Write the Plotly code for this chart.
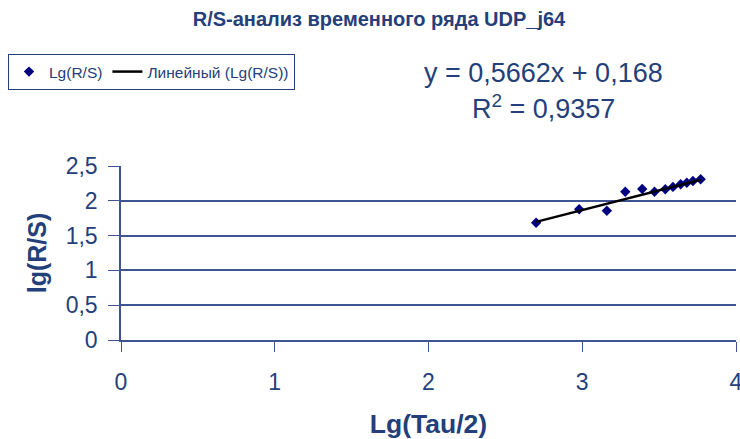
import plotly.graph_objects as go

# Data
lg_tau2 = [2.70, 2.98, 3.16, 3.28, 3.39, 3.47, 3.54, 3.59, 3.64, 3.68, 3.72, 3.77]
lg_rs = [1.685, 1.878, 1.858, 2.13, 2.17, 2.13, 2.165, 2.20, 2.237, 2.26, 2.285, 2.31]
slope = 0.5662
intercept = 0.168
r2_text = "0,9357"

x_ticks = [0, 1, 2, 3, 4]
y_ticks = [0, 0.5, 1, 1.5, 2, 2.5]

NAVY = "#24407a"
GRID = "#3f5593"
FONT = "Liberation Sans, Arial, sans-serif"

W, H = 740, 439

fit_x = [min(lg_tau2), max(lg_tau2)]
fit_y = [slope * v + intercept for v in fit_x]

fig = go.Figure()
fig.add_trace(go.Scatter(
    x=lg_tau2, y=lg_rs, mode="markers", name="Lg(R/S)",
    marker=dict(symbol="diamond", size=8, color="#000080"),
))
fig.add_trace(go.Scatter(
    x=fit_x, y=fit_y, mode="lines", name="Линейный (Lg(R/S))",
    line=dict(color="black", width=2.5),
))

plot_l, plot_r, plot_t, plot_b = 121, 736, 166, 340
pw, ph = plot_r - plot_l, plot_b - plot_t

fig.update_layout(
    width=W, height=H,
    paper_bgcolor="white", plot_bgcolor="white",
    separators=", ",
    margin=dict(l=plot_l, r=W - plot_r, t=plot_t, b=H - plot_b, pad=0),
    font=dict(family=FONT, color=NAVY),
    title=dict(
        text="<b>R/S-анализ временного ряда UDP_j64</b>",
        x=379 / W, xanchor="center", y=1 - 19 / H, yanchor="middle",
        font=dict(size=20, color=NAVY, family=FONT),
    ),
    showlegend=True,
    legend=dict(
        orientation="h", xref="container", yref="container",
        x=8 / W, xanchor="left", y=1 - 54 / H, yanchor="top",
        bordercolor=NAVY, borderwidth=1, bgcolor="white",
        font=dict(size=15.5, color=NAVY, family=FONT),
        itemwidth=30,
    ),
    xaxis=dict(
        range=[0, 4], tickvals=x_ticks, showgrid=False, zeroline=False,
        showline=True, linecolor=GRID, linewidth=1.5,
        ticks="outside", ticklen=10, tickcolor=GRID,
        ticklabelstandoff=11, ticklabeloverflow="allow",
        tickfont=dict(size=23, color=NAVY, family=FONT),
        title=dict(text="<b>Lg(Tau/2)</b>", standoff=26,
                   font=dict(size=26.5, color=NAVY, family=FONT)),
        automargin=False,
    ),
    yaxis=dict(
        range=[0, 2.5], tickvals=y_ticks, showgrid=True, gridcolor=GRID, gridwidth=1.5,
        zeroline=False, showline=True, linecolor=GRID, linewidth=1.5,
        ticks="outside", ticklen=11, tickcolor=GRID,
        ticklabelstandoff=6,
        tickfont=dict(size=23, color=NAVY, family=FONT),
        title=dict(text="<b>lg(R/S)</b>", standoff=12,
                   font=dict(size=25, color=NAVY, family=FONT)),
        automargin=False,
    ),
)

fig.add_annotation(
    xref="paper", yref="paper", x=(543 - plot_l) / pw, y=(plot_b - 73) / ph,
    text=f"y = {str(slope).replace('.', ',')}x + {str(intercept).replace('.', ',')}",
    showarrow=False, xanchor="center", yanchor="middle",
    font=dict(size=27, color=NAVY, family=FONT),
)
fig.add_annotation(
    xref="paper", yref="paper", x=(543 - plot_l) / pw, y=(plot_b - 107) / ph,
    text=f"R<sup>2</sup> = {r2_text}",
    showarrow=False, xanchor="center", yanchor="middle",
    font=dict(size=27, color=NAVY, family=FONT),
)

fig.write_html(
    "out.html",
    config={"displayModeBar": False},
    post_script="document.body.style.margin='0';document.body.style.overflow='hidden';",
)
